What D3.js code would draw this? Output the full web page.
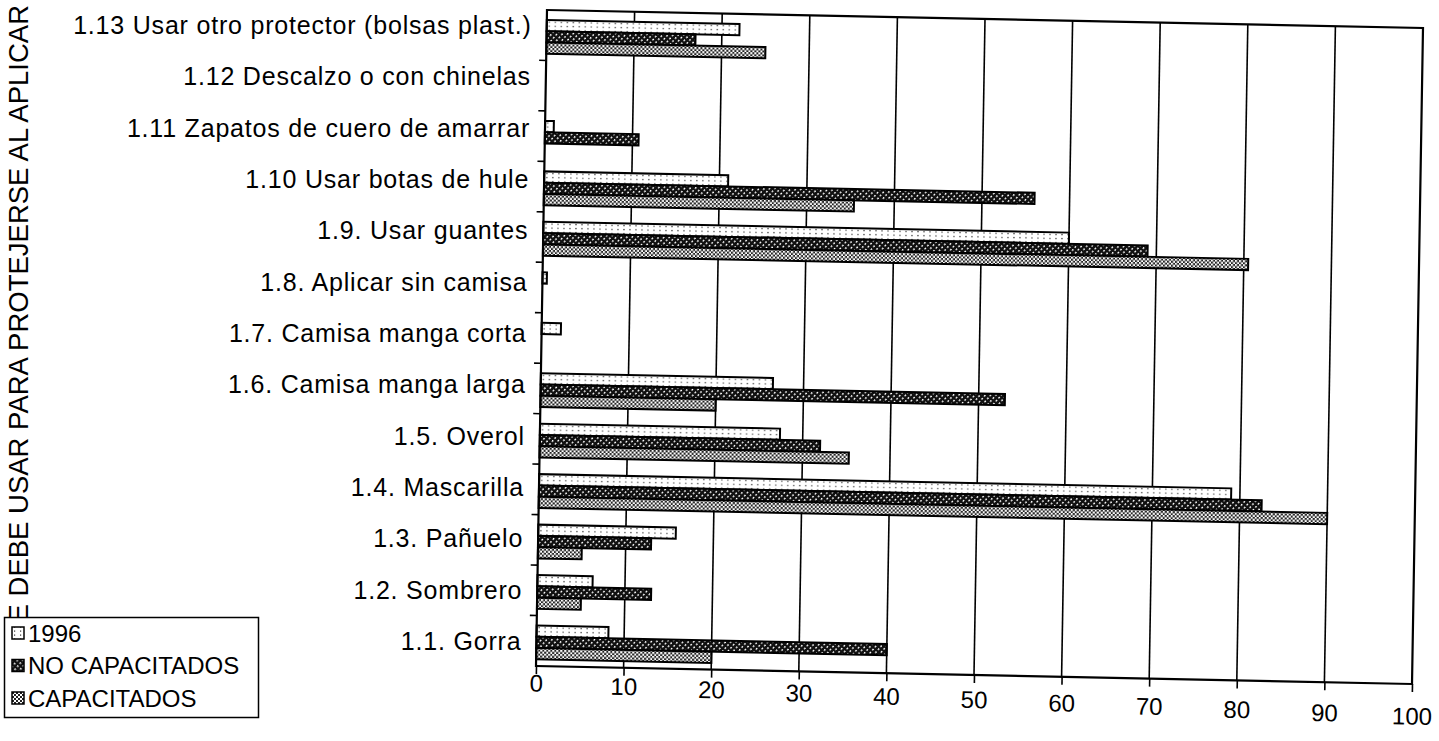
<!DOCTYPE html>
<html><head><meta charset="utf-8">
<script src="https://cdn.jsdelivr.net/npm/d3@7"></script>
<style>
html,body{margin:0;padding:0;background:#fff;}
svg{display:block;font-family:"Liberation Sans",Arial,Helvetica,sans-serif;}
</style></head><body>
<svg id="chart" width="1439" height="741"></svg>
<script>
// Protective items named by respondents (percent), three groups
const categories = ["1.1. Gorra","1.2. Sombrero","1.3. Pañuelo","1.4. Mascarilla","1.5. Overol",
  "1.6. Camisa manga larga","1.7. Camisa manga corta","1.8. Aplicar sin camisa","1.9. Usar guantes",
  "1.10 Usar botas de hule","1.11 Zapatos de cuero de amarrar","1.12 Descalzo o con chinelas",
  "1.13 Usar otro protector (bolsas plast.)"];
const seriesNames = ["1996","NO CAPACITADOS","CAPACITADOS"];
const values1996  = [8.2, 6.3, 15.7, 79, 27.4, 26.5, 2.2, 0.5, 60, 21, 1, 0, 22];
const valuesNoCap = [40, 13, 12.9, 82.5, 32, 53, 0, 0, 69, 56, 10.7, 0, 17];
const valuesCap   = [20, 5, 5, 90, 35.3, 20, 0, 0, 80.5, 35.4, 0, 0, 25];
const xTicks = [0,10,20,30,40,50,60,70,80,90,100];
const axisTitle = "E DEBE USAR PARA PROTEJERSE AL APLICAR";

const svg = d3.select("#chart");
const W = 876, H = 656;
// the printed sheet sits slightly askew: plot frame is sheared a little
const plotMatrix = [1, 0.02055, -0.01677, 1, 547, 10];

const defs = svg.append("defs");
// sparse dots for 1996
const p1 = defs.append("pattern").attr("id","pat1996").attr("patternUnits","userSpaceOnUse")
  .attr("width",6).attr("height",4);
p1.append("rect").attr("width",6).attr("height",4).attr("fill","#fff");
p1.append("rect").attr("x",2).attr("y",1.5).attr("width",1.2).attr("height",1.2).attr("fill","#333");
// dark diagonal weave for NO CAPACITADOS
const p2 = defs.append("pattern").attr("id","patNoCap").attr("patternUnits","userSpaceOnUse")
  .attr("width",4).attr("height",4).attr("patternTransform","rotate(40)");
p2.append("rect").attr("width",4).attr("height",4).attr("fill","#111");
p2.append("rect").attr("x",0).attr("y",0).attr("width",1.6).attr("height",1.6).attr("fill","#fff");
// lighter check for CAPACITADOS
const p3 = defs.append("pattern").attr("id","patCap").attr("patternUnits","userSpaceOnUse")
  .attr("width",4).attr("height",4);
p3.append("rect").attr("width",4).attr("height",4).attr("fill","#222");
p3.append("rect").attr("x",0).attr("y",0).attr("width",2).attr("height",2).attr("fill","#fff");
p3.append("rect").attr("x",2).attr("y",2).attr("width",2).attr("height",2).attr("fill","#fff");
const fills = ["url(#pat1996)","url(#patNoCap)","url(#patCap)"];

const topDown = categories.slice().reverse();
const x = d3.scaleLinear().domain([0,100]).range([0,W]);
const y = d3.scaleBand().domain(topDown).range([0,H]).paddingInner(0.33).paddingOuter(0.165).align(0.6);
const ySub = d3.scaleBand().domain(seriesNames).range([0,y.bandwidth()]);

const rows = categories.map((c,i)=>({cat:c, vals:[values1996[i],valuesNoCap[i],valuesCap[i]]}));

const g = svg.append("g").attr("transform","matrix(" + plotMatrix.join(",") + ")");

g.append("rect").attr("width",W).attr("height",H).attr("fill","#fff");

// vertical gridlines
g.append("g").selectAll("line").data(xTicks.filter(t=>t>0 && t<100)).join("line")
  .attr("x1",d=>x(d)).attr("x2",d=>x(d)).attr("y1",0).attr("y2",H)
  .attr("stroke","#000").attr("stroke-width",1.6);

// bars
const grp = g.append("g").selectAll("g").data(rows).join("g")
  .attr("transform",d=>`translate(0,${y(d.cat)})`);
grp.selectAll("rect").data(d=>d.vals.map((v,k)=>({v,k}))).join("rect")
  .filter(d=>d.v>0)
  .attr("x",x(0)).attr("y",d=>ySub(seriesNames[d.k]))
  .attr("width",d=>x(d.v)-x(0)).attr("height",ySub.bandwidth())
  .attr("fill",d=>fills[d.k]).attr("stroke","#000").attr("stroke-width",2);

// frame
g.append("rect").attr("width",W).attr("height",H).attr("fill","none")
  .attr("stroke","#000").attr("stroke-width",2.2);

// x axis ticks and labels; the printed labels drift lower toward the right
const xAxis = d3.axisBottom(x).tickValues(xTicks).tickSize(8).tickFormat(d3.format("d"));
const xg = g.append("g").attr("transform",`translate(0,${H})`).call(xAxis);
xg.select(".domain").remove();
xg.selectAll(".tick line").attr("stroke","#000").attr("stroke-width",1.6);
xg.selectAll(".tick text").attr("font-size",24).attr("fill","#000")
  .attr("font-family",'"Liberation Sans",Arial,sans-serif')
  .attr("y",d=>17 + 15*d/100).attr("dy","0.36em");

// category separators on the left axis
const seps = d3.range(1,13).map(i=>i*H/13);
g.append("g").selectAll("line").data(seps).join("line")
  .attr("x1",-7).attr("x2",0).attr("y1",d=>d).attr("y2",d=>d)
  .attr("stroke","#000").attr("stroke-width",1.6);

// category labels
const labelY = d3.scalePoint().domain(topDown).range([25,641]);
svg.append("g").selectAll("text").data(topDown).join("text")
  .attr("x",d=>547 - 11*(labelY(d)-10)/656 - 15)
  .attr("y",d=>labelY(d)).attr("dy","0.36em")
  .attr("text-anchor","end").attr("font-size",25).attr("letter-spacing",0.8).attr("fill","#000")
  .text(d=>d);

// rotated axis title
svg.append("text").attr("transform","translate(28,5) rotate(-90)")
  .attr("text-anchor","end").attr("font-size",27.5).attr("fill","#000")
  .text(axisTitle);

// legend
const lg = svg.append("g");
lg.append("rect").attr("x",4.5).attr("y",617.5).attr("width",254).attr("height",100)
  .attr("fill","#fff").attr("stroke","#000").attr("stroke-width",1.5);
const items = lg.selectAll("g").data(seriesNames).join("g")
  .attr("transform",(d,i)=>`translate(12,${633 + i*32.5})`);
items.append("rect").attr("x",0).attr("y",-6).attr("width",12).attr("height",12)
  .attr("fill",(d,i)=>fills[i]).attr("stroke","#000").attr("stroke-width",1.5);
items.append("text").attr("x",16).attr("dy","0.36em").attr("font-size",24).attr("fill","#000")
  .text(d=>d);
</script>
</body></html>
